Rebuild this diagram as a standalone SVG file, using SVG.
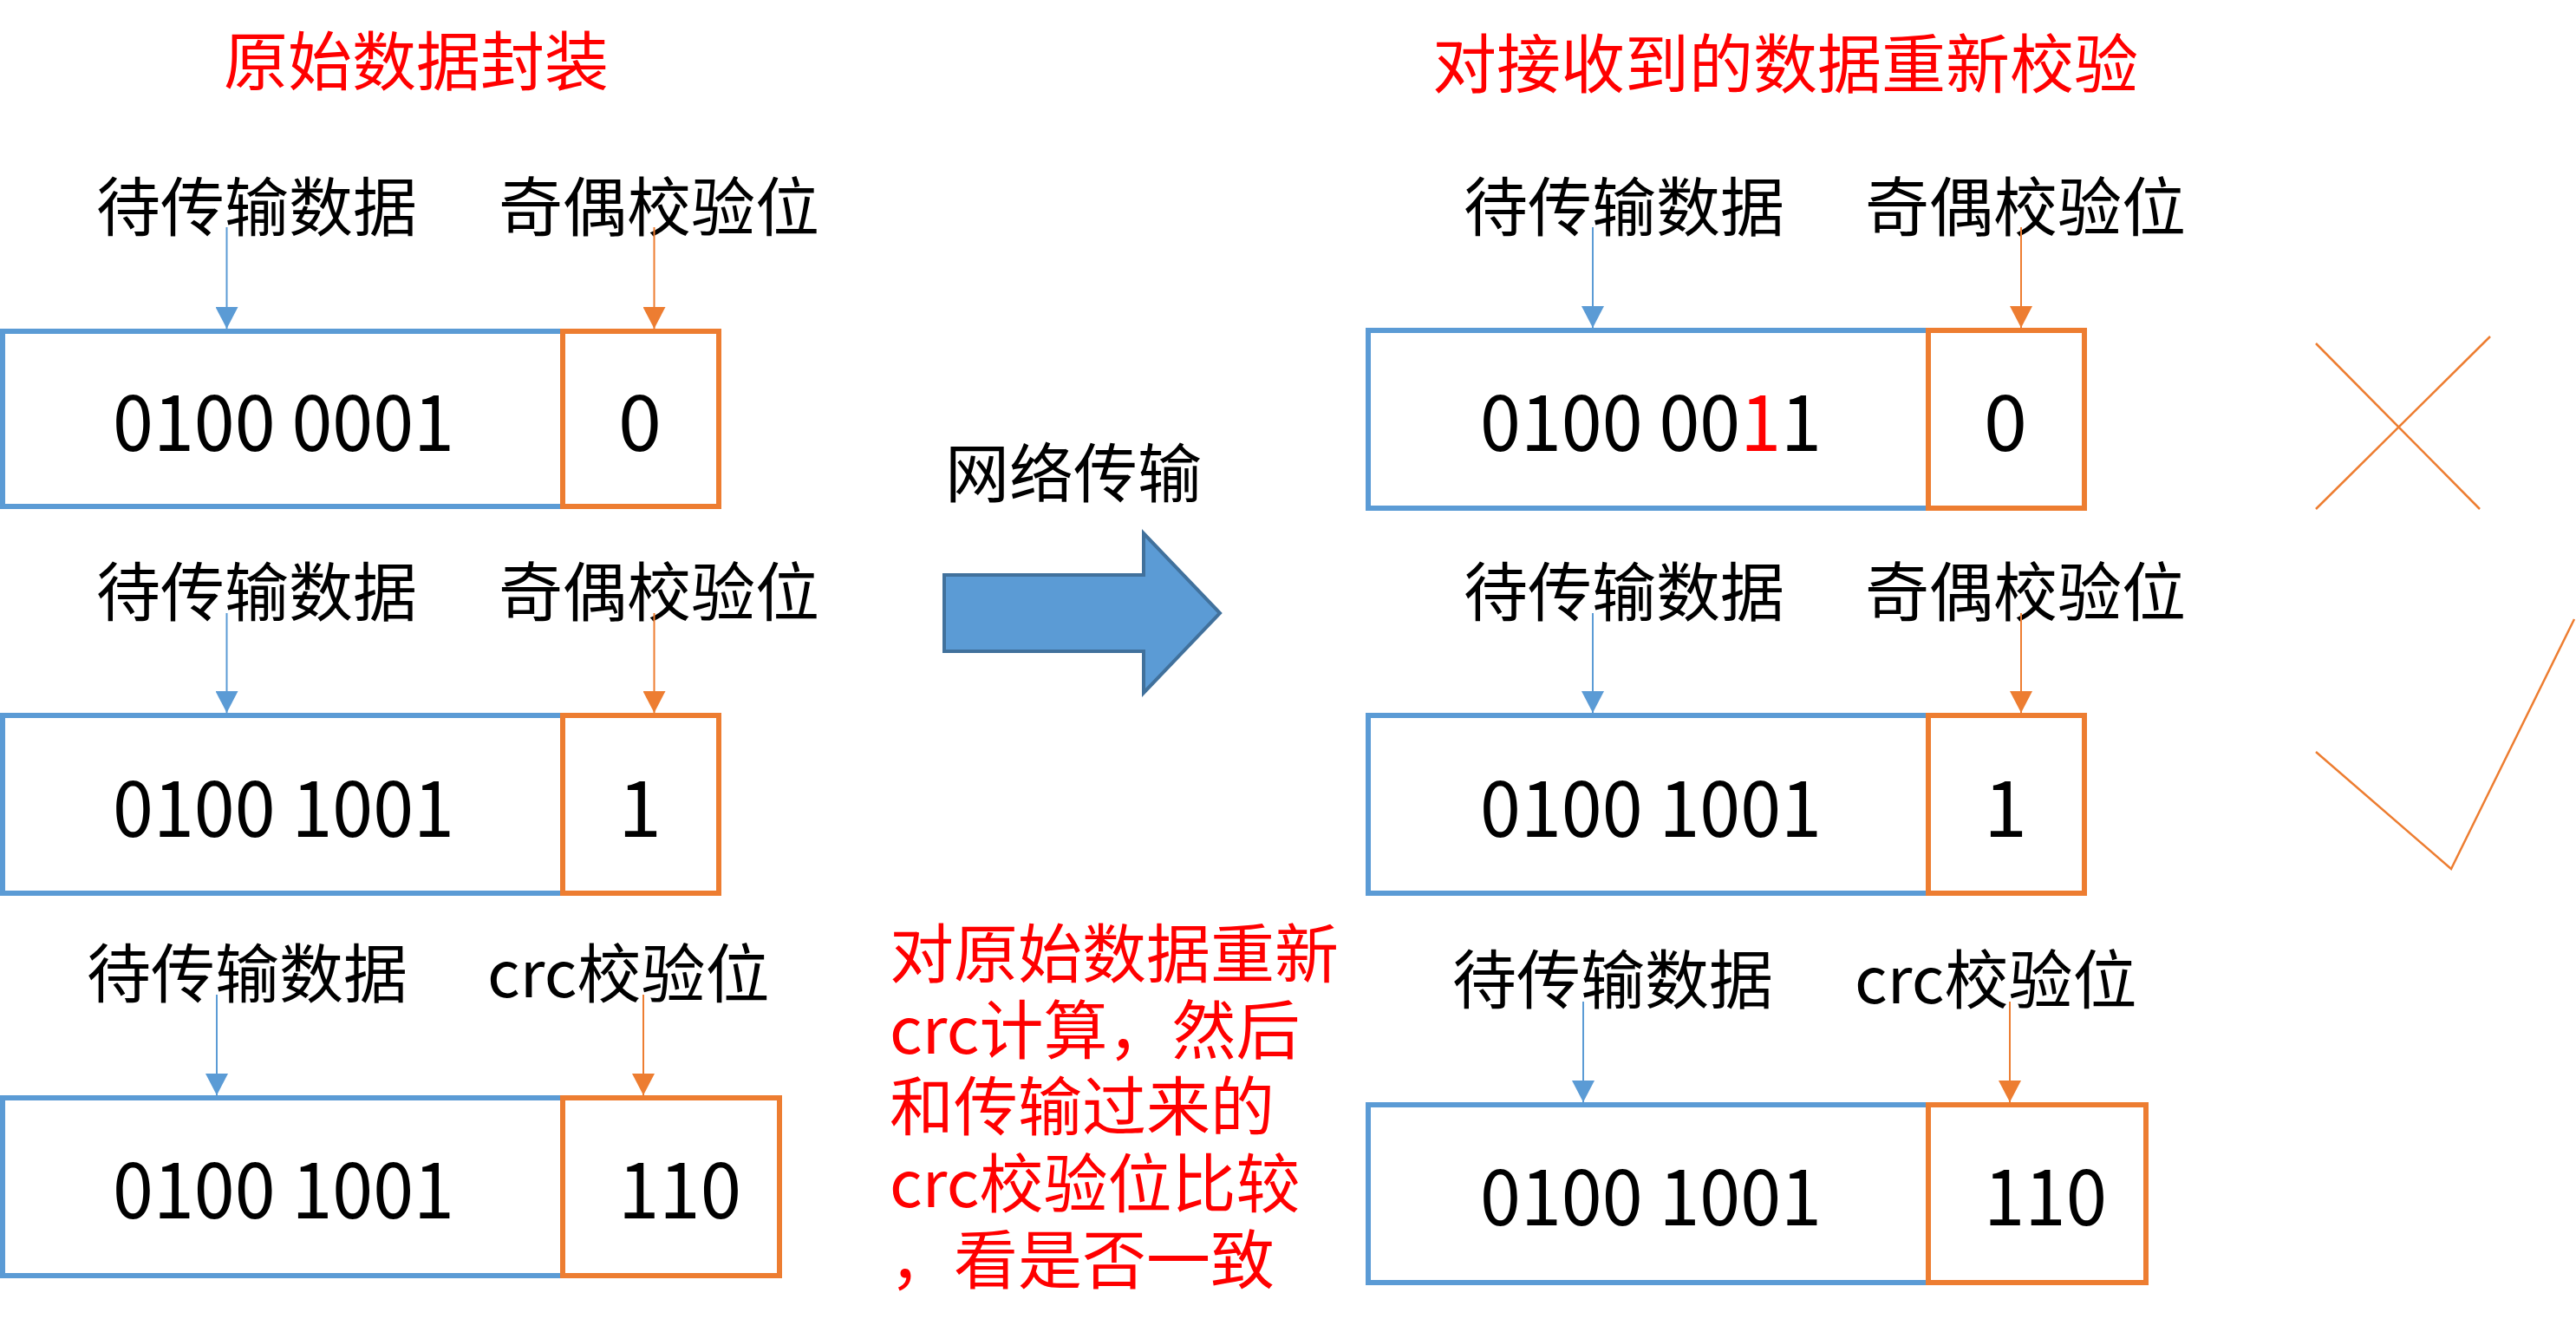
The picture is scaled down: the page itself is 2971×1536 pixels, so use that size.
<svg xmlns="http://www.w3.org/2000/svg" width="2971" height="1536" viewBox="0 0 2971 1536">
<style>
.cjk{font-family:"Noto Sans CJK SC","Noto Sans",sans-serif;font-size:74px;fill:#000}
.red{fill:#FF0000}
.num{font-family:"Noto Sans CJK SC","Noto Sans",sans-serif;font-size:90px;fill:#000}
.db{fill:#fff;stroke:#5B9BD5;stroke-width:6}
.pb{fill:none;stroke:#ED7D31;stroke-width:6}
.lb{stroke:#5B9BD5;stroke-width:2;fill:none;marker-end:url(#ab)}
.lo{stroke:#ED7D31;stroke-width:2;fill:none;marker-end:url(#ao)}
.mark{stroke:#ED7D31;stroke-width:2.5;fill:none}
.big{fill:#5B9BD5;stroke:#41719C;stroke-width:4}
</style>
<defs>
<marker id="ab" markerUnits="userSpaceOnUse" viewBox="0 0 25 26" markerWidth="25" markerHeight="26" refX="25" refY="13" orient="auto"><path d="M0,0 L25,13 L0,26 z" fill="#5B9BD5"/></marker>
<marker id="ao" markerUnits="userSpaceOnUse" viewBox="0 0 25 26" markerWidth="25" markerHeight="26" refX="25" refY="13" orient="auto"><path d="M0,0 L25,13 L0,26 z" fill="#ED7D31"/></marker>
</defs>
<rect width="2971" height="1536" fill="#fff"/>

<g id="title-left"><text class="cjk red" x="258" y="98">原始数据封装</text></g>
<g id="title-right"><text class="cjk red" x="1652" y="101">对接收到的数据重新校验</text></g>

<!-- Left column -->
<g id="L1">
<rect class="db" x="3" y="382" width="646" height="202"/>
<rect class="pb" x="649" y="382" width="180" height="202"/>
<text class="num" x="130" y="520" textLength="394" lengthAdjust="spacingAndGlyphs">0100 0001</text>
<text class="num" x="713" y="520">0</text>
</g>
<g id="L1-labels">
<text class="cjk" x="111" y="266">待传输数据</text>
<text class="cjk" x="575" y="266">奇偶校验位</text>
</g>
<g id="L2">
<rect class="db" x="3" y="825" width="646" height="205"/>
<rect class="pb" x="649" y="825" width="180" height="205"/>
<text class="num" x="130" y="965" textLength="394" lengthAdjust="spacingAndGlyphs">0100 1001</text>
<text class="num" x="713" y="965">1</text>
</g>
<g id="L2-labels">
<text class="cjk" x="111" y="710">待传输数据</text>
<text class="cjk" x="575" y="710">奇偶校验位</text>
</g>
<g id="L3">
<rect class="db" x="3" y="1266" width="646" height="205"/>
<rect class="pb" x="649" y="1266" width="250" height="205"/>
<text class="num" x="130" y="1405" textLength="394" lengthAdjust="spacingAndGlyphs">0100 1001</text>
<text class="num" x="713" y="1405" textLength="142" lengthAdjust="spacingAndGlyphs">110</text>
</g>
<g id="L3-labels">
<text class="cjk" x="100" y="1150">待传输数据</text>
<text class="cjk" x="562" y="1150">crc校验位</text>
</g>

<!-- Middle -->
<g id="transfer">
<text class="cjk" x="1090" y="573">网络传输</text>
<polygon class="big" points="1089,663 1319,663 1319,615 1407,707 1319,799 1319,751 1089,751"/>
</g>
<g id="note">
<text class="cjk red" x="1026" y="1127">对原始数据重新</text>
<text class="cjk red" x="1026" y="1215">crc计算，然后</text>
<text class="cjk red" x="1026" y="1303">和传输过来的</text>
<text class="cjk red" x="1026" y="1392">crc校验位比较</text>
<text class="cjk red" x="1026" y="1480">，看是否一致</text>
</g>

<!-- Right column -->
<g id="R1">
<rect class="db" x="1578" y="381" width="646" height="205"/>
<rect class="pb" x="2224" y="381" width="180" height="205"/>
<text class="num" x="1707" y="520" textLength="394" lengthAdjust="spacingAndGlyphs">0100 00<tspan class="red">1</tspan>1</text>
<text class="num" x="2288" y="520">0</text>
</g>
<g id="R1-labels">
<text class="cjk" x="1688" y="266">待传输数据</text>
<text class="cjk" x="2151" y="266">奇偶校验位</text>
</g>
<g id="R2">
<rect class="db" x="1578" y="825" width="646" height="205"/>
<rect class="pb" x="2224" y="825" width="180" height="205"/>
<text class="num" x="1707" y="965" textLength="394" lengthAdjust="spacingAndGlyphs">0100 1001</text>
<text class="num" x="2288" y="965">1</text>
</g>
<g id="R2-labels">
<text class="cjk" x="1688" y="710">待传输数据</text>
<text class="cjk" x="2151" y="710">奇偶校验位</text>
</g>
<g id="R3">
<rect class="db" x="1578" y="1274" width="646" height="205"/>
<rect class="pb" x="2224" y="1274" width="251" height="205"/>
<text class="num" x="1707" y="1413" textLength="394" lengthAdjust="spacingAndGlyphs">0100 1001</text>
<text class="num" x="2288" y="1413" textLength="142" lengthAdjust="spacingAndGlyphs">110</text>
</g>
<g id="R3-labels">
<text class="cjk" x="1675" y="1157">待传输数据</text>
<text class="cjk" x="2139" y="1157">crc校验位</text>
</g>

<g id="marks">
<line class="mark" x1="2671" y1="396" x2="2860" y2="587"/>
<line class="mark" x1="2671" y1="587" x2="2872" y2="388"/>
<polyline class="mark" points="2671,867 2827,1002 2969,714"/>
</g>

<g id="connectors">
<line class="lb" x1="261.5" y1="262" x2="261.5" y2="379"/>
<line class="lo" x1="754.5" y1="262" x2="754.5" y2="379"/>
<line class="lb" x1="261.5" y1="707" x2="261.5" y2="822"/>
<line class="lo" x1="754.5" y1="707" x2="754.5" y2="822"/>
<line class="lb" x1="250" y1="1147" x2="250" y2="1263"/>
<line class="lo" x1="742" y1="1147" x2="742" y2="1263"/>
<line class="lb" x1="1837" y1="262" x2="1837" y2="378"/>
<line class="lo" x1="2331" y1="262" x2="2331" y2="378"/>
<line class="lb" x1="1837" y1="707" x2="1837" y2="822"/>
<line class="lo" x1="2331" y1="707" x2="2331" y2="822"/>
<line class="lb" x1="1826" y1="1155" x2="1826" y2="1271"/>
<line class="lo" x1="2318" y1="1155" x2="2318" y2="1271"/>
</g>
</svg>
